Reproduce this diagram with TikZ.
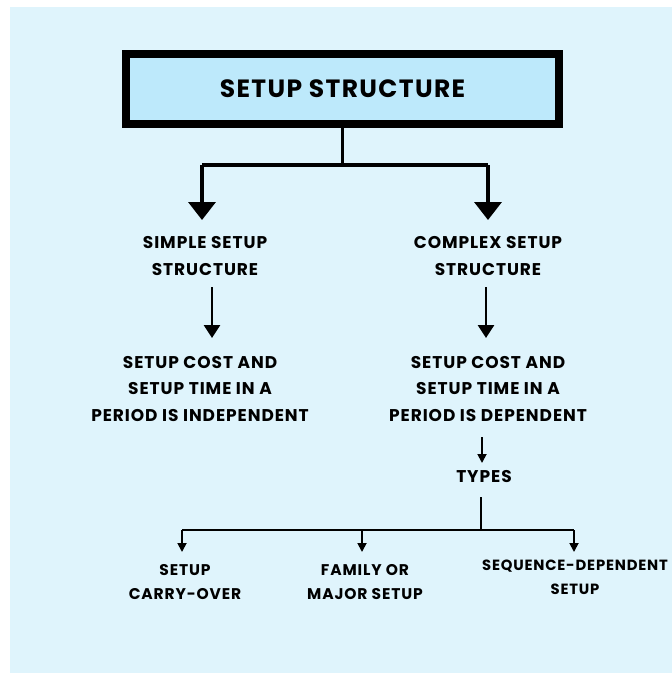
\documentclass[tikz,border=0pt]{standalone}
\usepackage{fontspec}
\setmainfont{Poppins}[LetterSpace=5.5]
\usetikzlibrary{arrows.meta}
\definecolor{bg}{HTML}{DFF4FC}
\definecolor{boxfill}{HTML}{BDE9FB}
\begin{document}
\begin{tikzpicture}[x=1pt,y=-1pt,
  lbl/.style={font=\fontsize{17}{26.5}\selectfont\bfseries, align=center, inner sep=0pt},
  leaf/.style={font=\fontsize{15.5}{24}\selectfont\bfseries, align=center, inner sep=0pt},
  bigarrow/.style={line width=3.5pt, -{Triangle[width=27pt,length=18pt]}},
  midarrow/.style={line width=2.8pt, -{Triangle[width=16pt,length=13pt]}},
  smallarrow/.style={line width=1.8pt, -{Triangle[width=9pt,length=9pt]}},
  thinline/.style={line width=1.8pt}]
\useasboundingbox (0,0) rectangle (672,673);
\fill[white] (0,0) rectangle (672,673);
\fill[bg] (10,7) rectangle (672,673);
% title
\node[draw=black, line width=8pt, fill=boxfill, minimum width=433pt, minimum height=70pt,
      inner sep=0pt, font=\fontsize{25}{30}\selectfont\bfseries] (title) at (342.5,89) {SETUP STRUCTURE};
% level 1
\node[lbl] (simple) at (205,256) {SIMPLE SETUP\\STRUCTURE};
\node[lbl] (complex) at (488,256) {COMPLEX SETUP\\STRUCTURE};
% level 2
\node[lbl] (indep) at (200,389) {SETUP COST AND\\SETUP TIME IN A\\PERIOD IS INDEPENDENT};
\node[lbl] (dep) at (488,389) {SETUP COST AND\\SETUP TIME IN A\\PERIOD IS DEPENDENT};
% types
\node[lbl] (types) at (484,477) {TYPES};
% leaves
\node[leaf] (carry) at (185,582) {SETUP\\CARRY-OVER};
\node[leaf] (family) at (365,582) {FAMILY OR\\MAJOR SETUP};
\node[leaf, font=\fontsize{14.8}{24}\selectfont\bfseries] (seq) at (575,577) {SEQUENCE-DEPENDENT\\SETUP};
% connectors
\coordinate (j1) at (342.5,165);
\coordinate (jl) at (202,165);
\coordinate (jr) at (488,165);
\draw[line width=3.5pt] (title.south) -- (j1);
\draw[line width=3.5pt] (jl) -- (jr);
\draw[bigarrow] (jl) -- (jl |- 0,220);
\draw[bigarrow] (jr) -- (jr |- 0,220);
\coordinate (sa) at (212,287);
\coordinate (ca) at (486,287);
\draw[midarrow] (sa) -- (sa |- 0,338);
\draw[midarrow] (ca) -- (ca |- 0,338);
\coordinate (ta) at (482,437);
\draw[smallarrow] (ta) -- (ta |- 0,463);
\coordinate (j2) at (481,497);
\coordinate (j3) at (481,530);
\draw[thinline] (j2) -- (j3);
\coordinate (l1) at (182,530);
\coordinate (l2) at (362,530);
\coordinate (l3) at (574,530);
\draw[thinline] (l1) -- (l3);
\draw[smallarrow] (l1) -- (l1 |- 0,552);
\draw[smallarrow] (l2) -- (l2 |- 0,552);
\draw[smallarrow] (l3) -- (l3 |- 0,552);
\end{tikzpicture}
\end{document}
